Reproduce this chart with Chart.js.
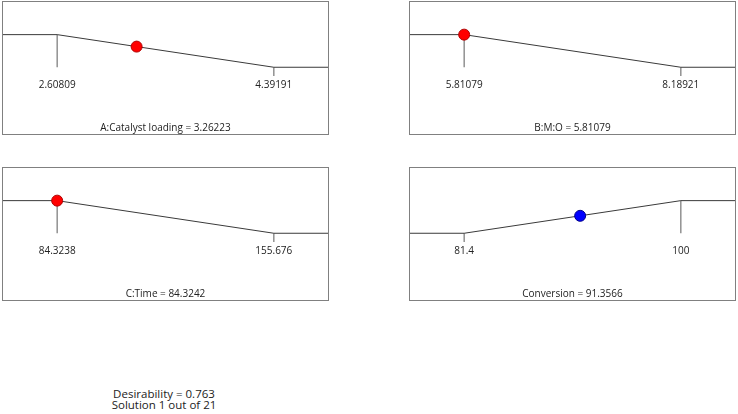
<!DOCTYPE html>
<html><head><meta charset="utf-8">
<script src="https://cdn.jsdelivr.net/npm/chart.js@4"></script>
<style>
html,body{margin:0;padding:0;background:#fff;}
body{width:738px;height:414px;position:relative;overflow:hidden;font-family:"Open Sans",sans-serif;}
.box{position:absolute;border:1px solid #808080;box-sizing:border-box;width:327px;height:134px;}
.box canvas{display:block;}
#summary{position:absolute;left:64px;width:200px;top:388px;text-align:center;font-size:11.5px;line-height:11px;color:#222;}
</style></head><body>
<div class="box" style="left:2px;top:1px"><canvas id="c0" width="325" height="132"></canvas></div>
<div class="box" style="left:409px;top:1px"><canvas id="c1" width="325" height="132"></canvas></div>
<div class="box" style="left:2px;top:167px"><canvas id="c2" width="325" height="132"></canvas></div>
<div class="box" style="left:409px;top:167px"><canvas id="c3" width="325" height="132"></canvas></div>
<div id="summary"></div>
<script>
const panelNames = ["A:Catalyst loading", "B:M:O", "C:Time", "Conversion"];
const lowLimits = [2.60809, 5.81079, 84.3238, 81.4];
const highLimits = [4.39191, 8.18921, 155.676, 100];
const lowLabels = ["2.60809", "5.81079", "84.3238", "81.4"];
const highLabels = ["4.39191", "8.18921", "155.676", "100"];
const lowDesirability = [1, 1, 1, 0];
const highDesirability = [0, 0, 0, 1];
const solutionValues = ["3.26223", "5.81079", "84.3242", "91.3566"];
const solutionDesirability = [0.633, 1, 1, 0.535];
const pointColors = ["#ff0000", "#ff0000", "#ff0000", "#0000ff"];
const pointBorders = ["#b00000", "#b00000", "#b00000", "#00008b"];
const overallDesirability = "0.763";
const solutionNumber = 1;
const solutionCount = 21;

const FONT = {family: '"Open Sans", sans-serif', size: 10};
const TEXT = '#222';

document.getElementById('summary').innerHTML =
  'Desirability = ' + overallDesirability + '<br>Solution ' + solutionNumber + ' out of ' + solutionCount;

panelNames.forEach((name, i) => {
  const low = lowLimits[i], high = highLimits[i];
  const r = high - low;
  const ld = lowDesirability[i], hd = highDesirability[i];
  const tickEnd = d => d === 1 ? 0 : -0.27;
  new Chart(document.getElementById('c' + i), {
    type: 'line',
    data: {
      datasets: [
        {
          data: [{x: Number(solutionValues[i]), y: solutionDesirability[i]}],
          showLine: false, order: 0,
          pointRadius: 5.5, pointBackgroundColor: pointColors[i],
          pointBorderColor: pointBorders[i], pointBorderWidth: 1
        },
        {
          data: [{x: low - r, y: ld}, {x: low, y: ld}, {x: high, y: hd}, {x: high + r, y: hd}],
          borderColor: '#3a3a3a', borderWidth: 1, pointRadius: 0, tension: 0, order: 1
        },
        {
          data: [{x: low, y: ld}, {x: low, y: tickEnd(ld)}],
          borderColor: '#808080', borderWidth: 1.3, pointRadius: 0, order: 2
        },
        {
          data: [{x: high, y: hd}, {x: high, y: tickEnd(hd)}],
          borderColor: '#808080', borderWidth: 1.3, pointRadius: 0, order: 2
        }
      ]
    },
    options: {
      responsive: false, animation: false, maintainAspectRatio: false,
      layout: {padding: 0, autoPadding: false},
      events: [],
      plugins: {legend: {display: false}, tooltip: {enabled: false}},
      scales: {
        x: {
          type: 'linear', position: 'bottom',
          min: low - 0.25 * r, max: high + 0.25 * r,
          grid: {display: false, drawTicks: false},
          border: {display: false},
          afterBuildTicks: s => { s.ticks = [{value: low}, {value: high}]; },
          ticks: {
            autoSkip: false, maxRotation: 0, padding: 2, font: FONT, color: TEXT,
            callback: v => (v === low ? lowLabels[i] : highLabels[i])
          },
          title: {
            display: true, text: name + ' = ' + solutionValues[i],
            padding: {top: 29, bottom: 0}, font: FONT, color: TEXT
          }
        },
        y: {display: false, min: -0.2985, max: 2.0}
      }
    }
  });
});
</script>
</body></html>
